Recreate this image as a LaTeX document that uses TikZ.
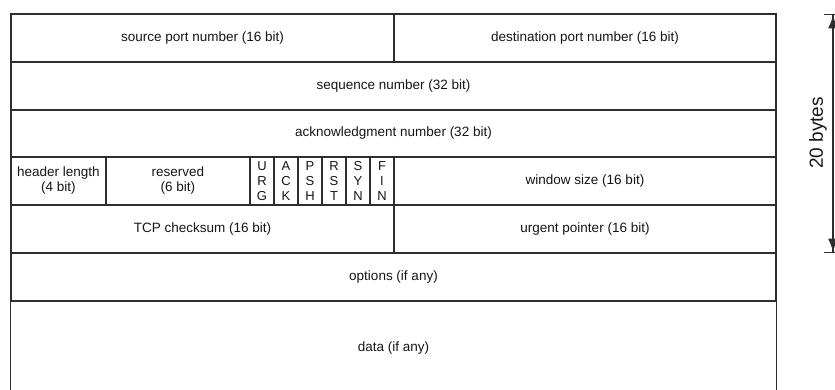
\documentclass[tikz,border=0pt]{standalone}
\usepackage{fontspec}
\setmainfont{Liberation Sans}
\usetikzlibrary{arrows.meta}
\definecolor{rulegray}{HTML}{2E2E2E}
\definecolor{inkgray}{HTML}{151515}
\begin{document}
\begin{tikzpicture}[x=1pt,y=-1pt,
  field/.style={draw=rulegray, line width=1.2pt, rectangle, inner sep=0pt,
    align=center, text=inkgray, font=\fontsize{13.5}{15}\selectfont},
  flagbox/.style={field, minimum width=24pt, minimum height=48pt,
    font=\fontsize{13}{14.6}\selectfont},
  plain/.style={inner sep=0pt, align=center, text=inkgray,
    font=\fontsize{13.5}{15}\selectfont}]
\useasboundingbox (0,0) rectangle (835,389);

% row 1: ports
\node[field, minimum width=383pt, minimum height=48pt] (src) at (202.5,38) {source port number (16 bit)};
\node[field, minimum width=382pt, minimum height=48pt] (dst) at (585,38) {destination port number (16 bit)};
% rows 2 and 3
\node[field, minimum width=765pt, minimum height=48pt] (seq) at (393.5,86) {sequence number (32 bit)};
\node[field, minimum width=765pt, minimum height=47pt] (ack) at (393.5,133.5) {acknowledgment number (32 bit)};
% row 4: header length, reserved, flags, window
\node[field, minimum width=95pt, minimum height=48pt] (hlen) at (58.5,181) {header length\\(4 bit)};
\node[field, minimum width=144pt, minimum height=48pt] (resv) at (178,181) {reserved\\(6 bit)};
\node[flagbox] (urg) at (262,181) {U\\R\\G};
\node[flagbox] (ackf) at (286,181) {A\\C\\K};
\node[flagbox] (psh) at (310,181) {P\\S\\H};
\node[flagbox] (rst) at (334,181) {R\\S\\T};
\node[flagbox] (syn) at (358,181) {S\\Y\\N};
\node[flagbox] (fin) at (382,181) {F\\I\\N};
\node[field, minimum width=382pt, minimum height=48pt] (win) at (585,181) {window size (16 bit)};
% row 5
\node[field, minimum width=383pt, minimum height=48pt] (chk) at (202.5,229) {TCP checksum (16 bit)};
\node[field, minimum width=382pt, minimum height=48pt] (urgp) at (585,229) {urgent pointer (16 bit)};
% row 6: options
\node[field, minimum width=765pt, minimum height=48pt] (opt) at (393.5,277) {options (if any)};
% data area, open at the bottom
\node[plain] (data) at (393.5,348) {data (if any)};
\draw[draw=rulegray, line width=1.2pt] (opt.south west) -- ++(0,100);
\draw[draw=rulegray, line width=1.2pt] (opt.south east) -- ++(0,100);

% header size marker
\coordinate (hdrtop) at (833,14);
\coordinate (hdrbot) at (833,253);
\draw[draw=rulegray, line width=1.3pt,
  {Bar[width=18pt]Latex[length=13pt,width=10pt]}-{Latex[length=13pt,width=10pt]Bar[width=18pt]}]
  (hdrtop) -- (hdrbot);
\node[plain, rotate=90, font=\fontsize{19}{22}\selectfont] (size) at (818,133) {20 bytes};
\end{tikzpicture}
\end{document}
